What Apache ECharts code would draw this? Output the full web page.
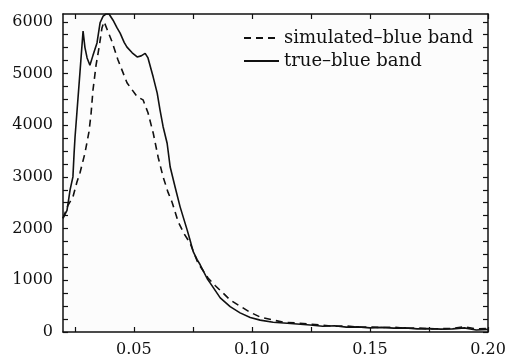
<!DOCTYPE html>
<html>
<head>
<meta charset="utf-8">
<script src="https://cdn.jsdelivr.net/npm/echarts@6/dist/echarts.min.js"></script>
<style>
  html, body {margin: 0; padding: 0; background: #fff;}
  #chart {width: 512px; height: 359px;}
</style>
</head>
<body>
<div id="chart"></div>
<script>
// values
const xTrue = [0.0200, 0.0217, 0.0230, 0.0242, 0.0247, 0.0251, 0.0259, 0.0272, 0.0285, 0.0293, 0.0302, 0.0314,
    0.0327, 0.0344, 0.0357, 0.0370, 0.0382, 0.0395, 0.0412, 0.0429, 0.0442, 0.0459, 0.0471, 0.0493, 0.0514,
    0.0531, 0.0548, 0.0560, 0.0573, 0.0582, 0.0599, 0.0611, 0.0624, 0.0641, 0.0654, 0.0675, 0.0696, 0.0726,
    0.0738, 0.0751, 0.0768, 0.0781, 0.0811, 0.0823, 0.0866, 0.0908, 0.0950, 0.0993, 0.1035, 0.1090, 0.1150,
    0.1247, 0.130, 0.135, 0.140, 0.145, 0.150, 0.155, 0.160, 0.165, 0.170, 0.175, 0.180, 0.185, 0.190, 0.195, 0.200]
const yTrue = [2200, 2350, 2750, 3000, 3460, 3770, 4250, 5030, 5820, 5500, 5300, 5160,
    5350, 5590, 5980, 6110, 6150, 6150, 6030, 5880, 5780, 5600, 5510, 5400, 5320,
    5340, 5390, 5300, 5080, 4930, 4620, 4290, 3970, 3650, 3190, 2800, 2420, 1970,
    1780, 1560, 1400, 1300, 1030, 950, 660, 490, 370, 280, 230, 190, 170,
    135, 110, 120, 95, 100, 80, 90, 75, 80, 60, 65, 55, 60, 80, 40, 50]

const xSim = [0.0200, 0.0208, 0.0221, 0.0242, 0.0259, 0.0272, 0.0293, 0.0310, 0.0319, 0.0327, 0.0340, 0.0353,
    0.0365, 0.0374, 0.0387, 0.0408, 0.0433, 0.0471, 0.0514, 0.0539, 0.0560, 0.0582, 0.0603, 0.0624, 0.0645,
    0.0662, 0.0688, 0.0713, 0.0738, 0.0772, 0.0815, 0.0844, 0.0874, 0.0908, 0.0950, 0.0993, 0.1035, 0.1090,
    0.1133, 0.120, 0.125, 0.130, 0.135, 0.140, 0.145, 0.150, 0.155, 0.160, 0.165, 0.170, 0.175, 0.180, 0.185,
    0.190, 0.195, 0.200]
const ySim = [2200, 2230, 2450, 2610, 2900, 3080, 3460, 3870, 4230, 4680, 5160, 5510,
    5880, 6000, 5850, 5610, 5260, 4820, 4550, 4490, 4240, 3850, 3380, 3000, 2700,
    2510, 2130, 1900, 1720, 1330, 1040, 900, 770, 620, 500, 380, 290, 230,
    190, 170, 150, 130, 110, 120, 90, 100, 85, 95, 70, 80, 60, 65, 70,
    100, 60, 70]

const xLabels = [0.05, 0.10, 0.15, 0.20]
const xTicks = [0.025, 0.05, 0.075, 0.10, 0.125, 0.15, 0.175, 0.20]
const yLabels = [0, 1000, 2000, 3000, 4000, 5000, 6000]
const yTicks = [0, 250, 500, 750, 1000, 1250, 1500, 1750, 2000, 2250, 2500, 2750, 3000,
    3250, 3500, 3750, 4000, 4250, 4500, 4750, 5000, 5250, 5500, 5750, 6000]

const pairs = (xs, ys) => xs.map((x, i) => [x, ys[i]])

const font = 'DejaVu Serif'
const black = '#111'

const axisBase = (extra) => ({
    type: 'value',
    min: extra.min,
    max: extra.max,
    axisLine: {show: true, onZero: false, lineStyle: {color: black, width: 1.5}},
    splitLine: {show: false},
    axisTick: {show: true, inside: true, length: 5, lineStyle: {color: black, width: 1.2}, customValues: extra.ticks},
    ...extra.rest
})

const myChart = echarts.init(document.getElementById('chart'), null, {renderer: 'canvas'})
const option = {
    animation: false,
    backgroundColor: '#fff',
    grid: {
        left: 63, top: 14, right: 24, bottom: 27,
        show: true, backgroundColor: '#fcfcfc', borderColor: black, borderWidth: 0
    },
    legend: {
        orient: 'vertical',
        left: 238,
        top: 24,
        itemWidth: 35,
        itemHeight: 14,
        itemGap: 5,
        itemStyle: {opacity: 0},
        textStyle: {fontFamily: font, fontSize: 18, color: black},
        data: ['simulated\u2013blue band', 'true\u2013blue band']
    },
    xAxis: [
        axisBase({min: 0.02, max: 0.2, ticks: xTicks, rest: {
            position: 'bottom',
            axisLabel: {
                customValues: xLabels, margin: 10, color: black,
                fontFamily: font, fontSize: 16,
                formatter: v => v.toFixed(2)
            }
        }}),
        axisBase({min: 0.02, max: 0.2, ticks: xTicks, rest: {
            position: 'top', axisLabel: {show: false}
        }})
    ],
    yAxis: [
        axisBase({min: 0, max: 6150, ticks: yTicks, rest: {
            position: 'left',
            axisLabel: {
                customValues: yLabels, margin: 10, color: black,
                fontFamily: font, fontSize: 16,
                formatter: v => String(v)
            }
        }}),
        axisBase({min: 0, max: 6150, ticks: yTicks, rest: {
            position: 'right', axisLabel: {show: false}
        }})
    ],
    series: [
        {
            name: 'simulated\u2013blue band',
            type: 'line',
            data: pairs(xSim, ySim),
            lineStyle: {color: black, width: 1.6, type: [7, 5]}
        },
        {
            name: 'true\u2013blue band',
            type: 'line',
            data: pairs(xTrue, yTrue),
            lineStyle: {color: black, width: 1.6}
        }
    ].map(obj => ({
        ...obj,
        symbol: 'none',
        itemStyle: {color: black},
        clip: true
    }))
}
myChart.setOption(option)
</script>
</body>
</html>
